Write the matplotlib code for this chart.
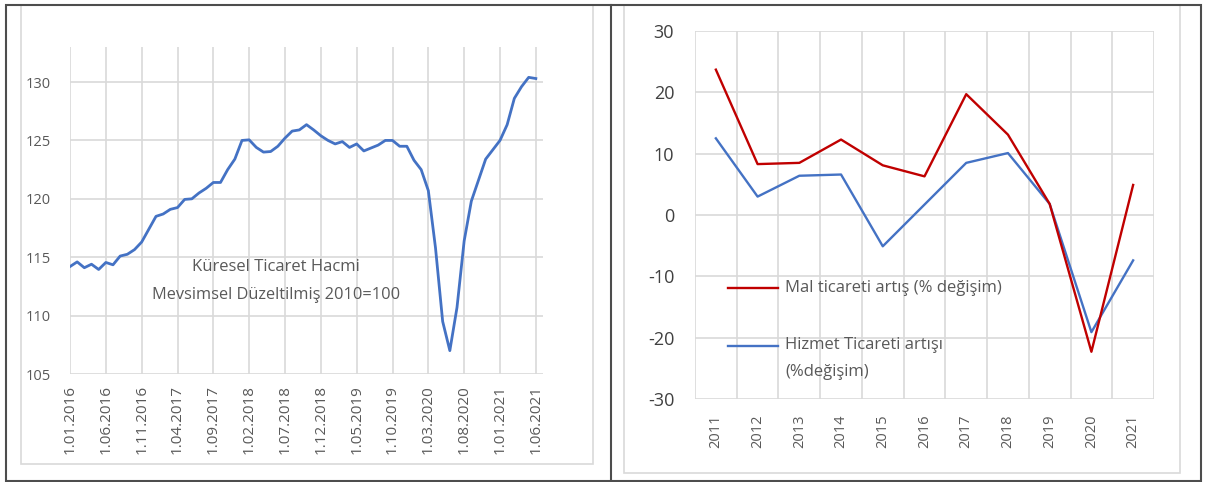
import matplotlib
matplotlib.use('Agg')
import matplotlib.pyplot as plt
from matplotlib.patches import Rectangle
from matplotlib.lines import Line2D

# Left chart: monthly world trade volume, Jan 2016 - Jun 2021
month_labels = ['1.01.2016', '1.06.2016', '1.11.2016', '1.04.2017', '1.09.2017',
                '1.02.2018', '1.07.2018', '1.12.2018', '1.05.2019', '1.10.2019',
                '1.03.2020', '1.08.2020', '1.01.2021', '1.06.2021']
volume = [114.2, 114.6, 114.1, 114.4, 113.95, 114.55, 114.35, 115.1, 115.25, 115.65,
          116.3, 117.4, 118.5, 118.7, 119.1, 119.25, 119.95, 120.0, 120.5, 120.9,
          121.4, 121.4, 122.5, 123.4, 125.0, 125.05, 124.4, 124.0, 124.05, 124.5,
          125.2, 125.8, 125.9, 126.35, 125.9, 125.4, 125.0, 124.7, 124.9, 124.4,
          124.7, 124.1, 124.35, 124.6, 125.0, 125.0, 124.5, 124.5, 123.3, 122.5,
          120.7, 115.8, 109.5, 107.0, 110.7, 116.4, 119.8, 121.6, 123.4, 124.2,
          125.0, 126.35, 128.6, 129.6, 130.4, 130.3]

# Right chart: yearly growth, goods vs services trade
years = ['2011', '2012', '2013', '2014', '2015', '2016', '2017', '2018', '2019', '2020', '2021']
goods = [23.7, 8.3, 8.5, 12.3, 8.1, 6.3, 19.7, 13.1, 1.8, -22.3, 4.9]
services = [12.5, 3.0, 6.4, 6.6, -5.1, 1.7, 8.5, 10.1, 1.8, -19.1, -7.4]

W, H = 1206, 482
plt.rcParams['font.family'] = ['Open Sans', 'DejaVu Sans']
plt.rcParams['axes.unicode_minus'] = False

GRID = '#d9d9d9'
TXT = '#595959'
BLUE = '#4472C4'
RED = '#C00000'


def box(l, t, r, b):
    # pixel box -> figure fraction [left, bottom, width, height]
    return [l / W, 1 - b / H, (r - l) / W, (b - t) / H]


fig = plt.figure(figsize=(W / 100, H / 100), dpi=100)
fig.patch.set_facecolor('white')

# ---- left chart
ax1 = fig.add_axes(box(70, 47, 543, 374))
ax1.plot(range(len(volume)), volume, color=BLUE, lw=2.0, solid_joinstyle='round')
ax1.set_xlim(0, 66)
ax1.set_ylim(105, 133)
ax1.set_xticks(range(0, 66, 5))
ax1.set_xticklabels(month_labels, rotation=90)
ax1.set_yticks(range(105, 131, 5))
ax1.grid(color=GRID, lw=1.2)
ax1.set_axisbelow(True)
for s in ax1.spines.values():
    s.set_visible(False)
ax1.tick_params(axis='both', length=0, colors=TXT, labelsize=10.5)
ax1.tick_params(axis='x', labelsize=11, pad=8)
ax1.tick_params(axis='y', pad=14)
ax1.text(0.4355, 0.326, 'Küresel Ticaret Hacmi', transform=ax1.transAxes,
         ha='center', va='center', color=TXT, fontsize=12)
ax1.text(0.4355, 0.2416, 'Mevsimsel Düzeltilmiş 2010=100', transform=ax1.transAxes,
         ha='center', va='center', color=TXT, fontsize=11.8)

# ---- right chart
ax2 = fig.add_axes(box(695, 31, 1154, 399))
x = range(len(years))
ax2.plot(x, services, color=BLUE, lw=1.7)
ax2.plot(x, goods, color=RED, lw=1.7)
ax2.set_xlim(-0.5, len(years) - 0.5)
ax2.set_ylim(-30, 30)
ax2.set_xticks(list(x))
ax2.set_xticklabels(years, rotation=90)
ax2.set_xticks([i - 0.5 for i in range(len(years) + 1)], minor=True)
ax2.set_yticks(range(-30, 31, 10))
ax2.grid(which='minor', axis='x', color=GRID, lw=1.2)
ax2.grid(which='major', axis='y', color=GRID, lw=1.2)
ax2.set_axisbelow(True)
for s in ax2.spines.values():
    s.set_visible(False)
ax2.tick_params(which='both', length=0)
ax2.tick_params(axis='x', colors=TXT, labelsize=10.5, pad=11)
ax2.tick_params(axis='y', colors='#404040', labelsize=13, pad=15)

# legend drawn by hand, keys sit on the first text line
ax2.add_line(Line2D([0.072, 0.181], [0.3016, 0.3016], color=RED, lw=1.7,
                    transform=ax2.transAxes))
ax2.text(0.196, 0.3016, 'Mal ticareti artış (% değişim)', transform=ax2.transAxes,
         ha='left', va='center', color=TXT, fontsize=12)
ax2.add_line(Line2D([0.072, 0.181], [0.144, 0.144], color=BLUE, lw=1.7,
                    transform=ax2.transAxes))
ax2.text(0.196, 0.147, 'Hizmet Ticareti artışı', transform=ax2.transAxes,
         ha='left', va='center', color=TXT, fontsize=12)
ax2.text(0.196, 0.0734, '(%değişim)', transform=ax2.transAxes,
         ha='left', va='center', color=TXT, fontsize=12)

# ---- frames
fig.add_artist(Rectangle((21 / W, 1 - 464 / H), (593 - 21) / W, (464 - 5) / H,
                         transform=fig.transFigure, fill=False, ec=GRID, lw=1.2))
fig.add_artist(Rectangle((624 / W, 1 - 473 / H), (1180 - 624) / W, (473 - 5) / H,
                         transform=fig.transFigure, fill=False, ec=GRID, lw=1.2))
fig.add_artist(Rectangle((6 / W, 1 - 481 / H), (1201 - 6) / W, (481 - 5) / H,
                         transform=fig.transFigure, fill=False, ec='#4d4d4d', lw=1.5))
fig.add_artist(Line2D([611 / W, 611 / W], [1 - 5 / H, 1 - 481 / H],
                      transform=fig.transFigure, color='#4d4d4d', lw=1.5))

fig.savefig('out.png', dpi=100)
